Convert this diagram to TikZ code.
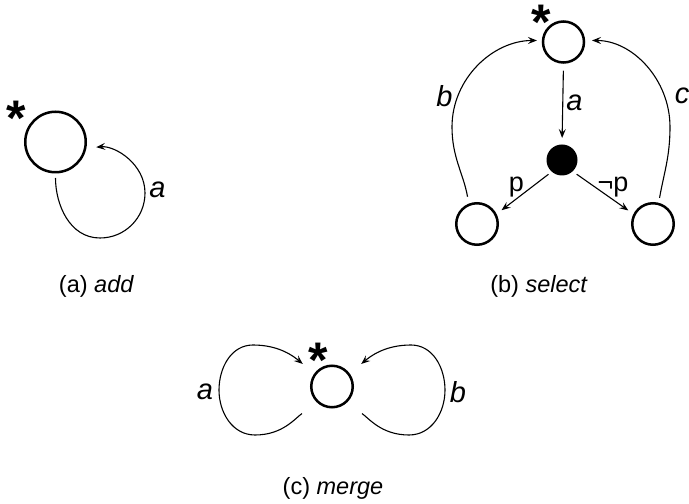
\documentclass[tikz,border=0pt]{standalone}
\usepackage{fontspec}
\setmainfont{Liberation Sans}
\usetikzlibrary{arrows.meta}
\begin{document}
\begin{tikzpicture}[x=1pt,y=1pt,
  st/.style={circle,draw,line width=2.5pt,inner sep=0pt},
  dotnode/.style={circle,fill=black,inner sep=0pt,outer sep=0pt,minimum size=31pt},
  conn/.style={line width=1.1pt,-{Stealth[length=9pt,width=7pt,inset=3.5pt]}},
  lbl/.style={font=\fontsize{29}{29}\selectfont\itshape,inner sep=0pt},
  ulbl/.style={font=\fontsize{27}{27}\selectfont,inner sep=0pt},
  captext/.style={font=\fontsize{23.5}{23.5}\selectfont,inner sep=0pt},
  starnode/.style={font=\fontsize{50}{50}\selectfont\bfseries,inner sep=0pt,anchor=north}]
\useasboundingbox (0,0) rectangle (689,504);
% (a)
\node[st,minimum size=60.5pt] (A) at (55.5,362) {};
\node[starnode] (sa) at (16,403) {*};
\draw[conn,shorten <=4.5pt,shorten >=9.8pt] (A.south) to[out=-90,in=180] (100,266)
  to[out=0,in=-90] (145,311) to[out=90,in=5] (A.-11);
\node[lbl] (la) at (157.5,314) {a};
\node[captext] (ca) at (96.5,218) {(a) \textit{add}};
% (b)
\node[st,minimum size=41pt] (T) at (563.5,462) {};
\node[dotnode] (F) at (562,344) {};
\node[st,minimum size=41.5pt] (L) at (477,280) {};
\node[st,minimum size=41.5pt] (R) at (653,280) {};
\node[starnode] (sb) at (541,499) {*};
\draw[conn,shorten <=7pt,shorten >=6.5pt] (T.south) -- (F.north);
\node[lbl] (lba) at (574.5,401) {a};
\draw[conn,shorten <=4.3pt,shorten >=6.2pt] (F.229) -- (L.27);
\draw[conn,shorten <=5pt,shorten >=6.2pt] (F.313) -- (R.153);
\node[ulbl] (lp) at (516.5,317) {p};
\node[ulbl] (lnp) at (613,317) {¬p};
\draw[conn,shorten <=7pt,shorten >=4.9pt] (L.112) to[out=100,in=-90] (452,377)
  to[out=90,in=180] (T.176);
\draw[conn,shorten <=4.9pt,shorten >=6.8pt] (R.75) to[out=80,in=-90] (670,377)
  to[out=90,in=0] (T.4);
\node[lbl] (lbb) at (444.5,408) {b};
\node[lbl] (lbc) at (682,408) {c};
\node[captext] (cb) at (539,218) {(b) \textit{select}};
% (c)
\node[st,minimum size=41.5pt] (C) at (332,117.5) {};
\node[starnode] (sc) at (318,161) {*};
\draw[conn,shorten <=18.7pt,shorten >=14.9pt] (C.228) to[out=-145,in=0] (255,69)
  to[out=180,in=-90] (219,114) to[out=90,in=180] (253,159) to[out=0,in=140] (C.144);
\draw[conn,shorten <=18.7pt,shorten >=14.9pt] (C.312) to[out=-35,in=180] (409,69)
  to[out=0,in=-90] (445,114) to[out=90,in=0] (411,159) to[out=180,in=40] (C.36);
\node[lbl] (lca) at (205,112) {a};
\node[lbl] (lcb) at (458,112) {b};
\node[captext] (cc) at (333,16) {(c) \textit{merge}};
\end{tikzpicture}
\end{document}
